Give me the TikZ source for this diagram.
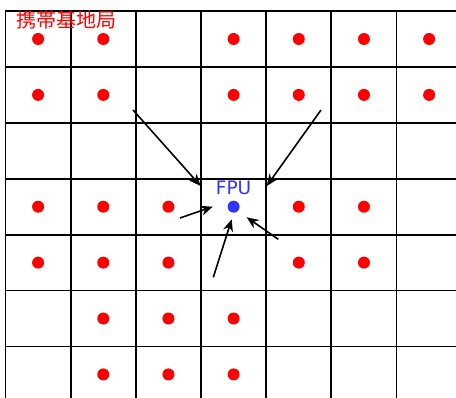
\documentclass[tikz,border=0pt]{standalone}
\usepackage{fontspec}
\setsansfont{DejaVu Sans}
\newfontfamily\jpfont{Noto Sans CJK JP}
\usetikzlibrary{arrows.meta, positioning}
\definecolor{bsred}{RGB}{255,0,0}
\definecolor{fpublue}{RGB}{51,51,255}

\begin{document}
\begin{tikzpicture}[
        x=1pt, y=-1pt,
        gridline/.style = {draw=black, line width=1.8pt, line cap=rect},
        station/.style = {circle, fill=bsred, inner sep=0pt, minimum size=12pt},
        fpunode/.style = {station, fill=fpublue},
        arrow/.style = {draw=black, line width=1.6pt, -{Stealth[length=12pt, width=10pt]}}
    ]
        \useasboundingbox (0,0) rectangle (456,397);

        % Grid of cells
        \begin{scope}
            \clip (0,0) rectangle (456,397);
            \foreach \i in {0,...,7}
                \draw [gridline] ({5.5+65.17*\i},11) -- ({5.5+65.17*\i},400);
            \foreach \j in {0,...,6}
                \draw [gridline] (5.5,{11+55.9*\j}) -- (460,{11+55.9*\j});
        \end{scope}

        % Base stations
        \foreach \r/\cols in {0/{0,1,3,4,5,6}, 1/{0,1,3,4,5,6}, 3/{0,1,2,4,5}, 4/{0,1,2,4,5}, 5/{1,2,3}, 6/{1,2,3}}
            \foreach \c in \cols
                \node (bs-\r-\c) [station] at ({38.1+65.17*\c},{39+55.9*\r}) {};

        % FPU
        \node (fpu) [fpunode] at ({38.1+65.17*3},{39+55.9*3}) {};
        \node (fpuLabel) [above=5.5pt of fpu, inner sep=0pt, text=fpublue, font=\sffamily\fontsize{18.5}{20}\selectfont] {FPU};

        % Title
        \node (title) [inner sep=0pt, text=bsred, font=\jpfont\fontsize{20}{22}\selectfont] at (66.5,20) {携帯基地局};

        % Arrows towards FPU
        \coordinate (a1s) at (133,110);   \coordinate (a1e) at (200.7,186);
        \coordinate (a2s) at (321,110);   \coordinate (a2e) at (266.7,186);
        \coordinate (a3s) at (180,218);   \coordinate (a3e) at (212.7,206.7);
        \coordinate (a4s) at (213.3,277.3); \coordinate (a4e) at (231.7,219.3);
        \coordinate (a5s) at (278.3,239.3); \coordinate (a5e) at (246.7,217.3);
        \foreach \k in {1,...,5}
            \draw [arrow] (a\k s) -- (a\k e);

    \end{tikzpicture}
\end{document}
